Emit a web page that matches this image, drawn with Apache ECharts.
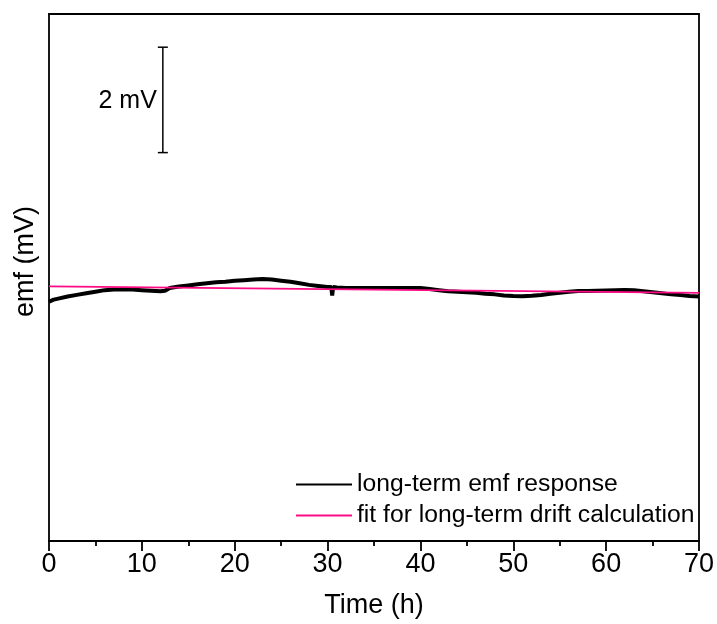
<!DOCTYPE html>
<html>
<head>
<meta charset="utf-8">
<script src="https://cdn.jsdelivr.net/npm/echarts@6/dist/echarts.min.js"></script>
<style>html,body{margin:0;padding:0;background:#fff}#c{width:717px;height:624px}</style>
</head>
<body>
<div id="c"></div>
<script>
// Time (h) and emf (mV)
const timeH = [0,0.5,1,2,3,4,5,6,7,8,9,10,11,12,12.5,13,14,15,16,17,18,19,20,21,22,23,24,25,26,27,28,29,30,30.4,30.5,30.6,31,32,33,34,35,36,37,38,39,40,41,42,43,44,45,46,47,48,49,50,51,52,53,54,55,56,57,58,59,60,61,62,63,64,65,66,67,68,69,70];
const emf   = [4.54,4.58,4.60,4.64,4.67,4.70,4.73,4.76,4.77,4.77,4.77,4.76,4.75,4.74,4.75,4.80,4.83,4.85,4.87,4.89,4.91,4.92,4.94,4.95,4.96,4.97,4.96,4.94,4.92,4.89,4.86,4.84,4.82,4.82,4.66,4.82,4.81,4.80,4.80,4.80,4.80,4.80,4.80,4.80,4.80,4.80,4.78,4.76,4.74,4.73,4.72,4.71,4.69,4.68,4.66,4.65,4.645,4.655,4.67,4.69,4.71,4.73,4.745,4.745,4.75,4.755,4.76,4.765,4.76,4.74,4.72,4.70,4.68,4.67,4.65,4.64];
const fitTime = [0, 70];
const fitEmf  = [4.83, 4.71];
const xTicks = [0,10,20,30,40,50,60,70];
const scaleBar = { time: 12.26, low: 7.37, high: 9.37, label: '2 mV' };
const seriesNames = ['long-term emf response', 'fit for long-term drift calculation'];

const FONT = "'Liberation Sans', Arial, sans-serif";
const chart = echarts.init(document.getElementById('c'));
const axisLine = { show: true, onZero: false, lineStyle: { color: '#000', width: 1.8 } };
chart.setOption({
  animation: false,
  backgroundColor: '#fff',
  grid: { left: 49, right: 17, top: 14, bottom: 81 },
  xAxis: [{
    type: 'value', min: xTicks[0], max: xTicks[xTicks.length - 1], interval: 10,
    name: 'Time (h)', nameLocation: 'middle', nameGap: 51,
    nameTextStyle: { fontFamily: FONT, fontSize: 27, color: '#000' },
    axisLine: axisLine,
    axisTick: { show: true, inside: false, length: 10, lineStyle: { color: '#000', width: 1.8 } },
    minorTick: { show: true, splitNumber: 2, length: 5, lineStyle: { color: '#000', width: 1.8 } },
    axisLabel: { fontFamily: FONT, fontSize: 27, color: '#000', margin: 10 },
    splitLine: { show: false }
  }, {
    type: 'value', position: 'top', min: 0, max: 70,
    axisLine: axisLine, axisTick: { show: false }, axisLabel: { show: false }, splitLine: { show: false }
  }],
  yAxis: [{
    type: 'value', min: 0, max: 10,
    name: 'emf (mV)', nameLocation: 'middle', nameGap: 10,
    nameTextStyle: { fontFamily: FONT, fontSize: 27, color: '#000', padding: [0, 0, 0, 32] },
    axisLine: axisLine, axisTick: { show: false }, axisLabel: { show: false }, splitLine: { show: false }
  }, {
    type: 'value', position: 'right', min: 0, max: 10,
    axisLine: axisLine, axisTick: { show: false }, axisLabel: { show: false }, splitLine: { show: false }
  }],
  legend: {
    orient: 'vertical', left: 291, top: 467,
    itemWidth: 56, itemHeight: 2, itemGap: 6,
    icon: 'rect',
    textStyle: { fontFamily: FONT, fontSize: 24.7, color: '#000', padding: [0, 0, 0, 0] },
    data: seriesNames
  },
  series: [{
    name: seriesNames[0], type: 'line', symbol: 'none',
    data: timeH.map((t, i) => [t, emf[i]]),
    lineStyle: { color: '#000', width: 4 }, itemStyle: { color: '#000' }, z: 2
  }, {
    name: seriesNames[1], type: 'line', symbol: 'none',
    data: fitTime.map((t, i) => [t, fitEmf[i]]),
    lineStyle: { color: '#ff0a85', width: 1.8 }, itemStyle: { color: '#ff0a85' }, z: 3
  }, {
    type: 'custom', silent: true,
    data: [[scaleBar.time, scaleBar.low, scaleBar.high]],
    encode: { x: 0, y: [1, 2] },
    renderItem: function (params, api) {
      const lo = api.coord([api.value(0), api.value(1)]);
      const hi = api.coord([api.value(0), api.value(2)]);
      const st = { stroke: '#000', lineWidth: 1.5 };
      return {
        type: 'group',
        children: [
          { type: 'line', shape: { x1: lo[0], y1: lo[1], x2: hi[0], y2: hi[1] }, style: st },
          { type: 'line', shape: { x1: lo[0] - 5, y1: lo[1], x2: lo[0] + 5, y2: lo[1] }, style: st },
          { type: 'line', shape: { x1: hi[0] - 5, y1: hi[1], x2: hi[0] + 5, y2: hi[1] }, style: st },
          { type: 'text', x: lo[0] - 6, y: (lo[1] + hi[1]) / 2 + 1,
            style: { text: scaleBar.label, fill: '#000', fontFamily: FONT, fontSize: 25, align: 'right', verticalAlign: 'middle' } }
        ]
      };
    }
  }]
});
</script>
</body>
</html>
